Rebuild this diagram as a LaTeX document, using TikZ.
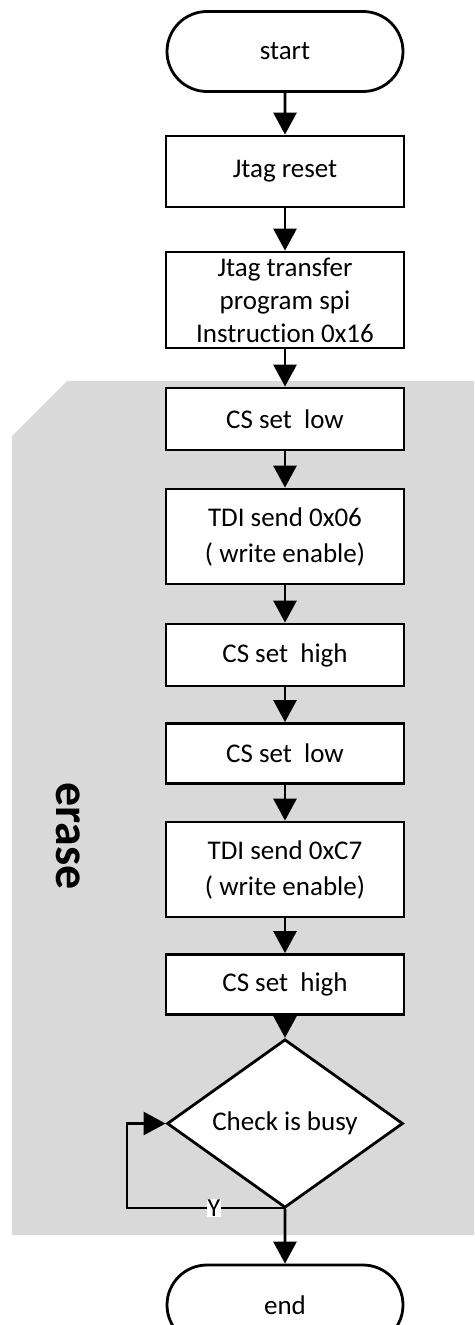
\documentclass[tikz,border=0pt]{standalone}
\usepackage{fontspec}
\setmainfont{Carlito}[Ligatures=NoCommon]
\usetikzlibrary{shapes.geometric,shapes.misc,arrows.meta}

\definecolor{erasegrey}{HTML}{D9D9D9}

\tikzset{
    base/.style={draw=black, line width=2.8pt, fill=white, align=center, inner sep=0pt, font=\fontsize{27}{36}\selectfont},
    terminal/.style={base, rounded rectangle, minimum width=236pt, minimum height=80pt},
    stepbox/.style={base, rectangle, minimum width=238pt},
    decision/.style={base, diamond, minimum width=236pt, minimum height=141pt},
    flow/.style={line width=2.8pt, -{Triangle[width=23pt,length=22pt]}},
    ylabel/.style={fill=white, inner sep=0.5pt, font=\fontsize{26}{30}\selectfont},
}

\begin{document}
\begin{tikzpicture}[x=1pt,y=-1pt]

    \useasboundingbox (0,0) rectangle (474,1325);
    \clip (0,0) rectangle (474,1325);

    % grey block behind the erase steps
    \fill[erasegrey] (67,381) -- (474,381) -- (474,1235) -- (12,1235) -- (12,436) -- cycle;
    \node[rotate=-90, font=\fontsize{48}{48}\selectfont\bfseries] (erase) at (68,836) {erase};

    % flow
    \node[terminal] (start) at (285,51.5) {start};
    \node[stepbox, minimum height=71pt] (reset) at (285,171.5) {Jtag reset};
    \node[stepbox, minimum height=96pt, font=\fontsize{27}{33}\selectfont] (transfer) at (285,300) {Jtag transfer\\program spi\\Instruction 0x16};
    \node[stepbox, minimum height=62pt] (lowA) at (285,419) {CS set\ \ low};
    \node[stepbox, minimum height=95pt] (sendA) at (285,536.5) {TDI send 0x06\\( write enable)};
    \node[stepbox, minimum height=62pt] (highA) at (285,655) {CS set\ \ high};
    \node[stepbox, minimum height=60pt] (lowB) at (285,753.5) {CS set\ \ low};
    \node[stepbox, minimum height=95pt] (sendB) at (285,869.5) {TDI send 0xC7\\( write enable)};
    \node[stepbox, minimum height=60pt] (highB) at (285,984.5) {CS set\ \ high};
    \node[decision] (busy) at (285,1123.5) {Check is busy};
    \node[terminal] (end) at (285,1305) {end};

    \draw[flow] (start) -- (reset);
    \draw[flow] (reset) -- (transfer);
    \draw[flow] (transfer) -- (lowA);
    \draw[flow] (lowA) -- (sendA);
    \draw[flow] (sendA) -- (highA);
    \draw[flow] (highA) -- (lowB);
    \draw[flow] (lowB) -- (sendB);
    \draw[flow] (sendB) -- (highB);
    \draw[flow] (highB) -- (busy);
    \draw[flow] (busy) -- (end);

    % busy loop
    \coordinate (loopfoot) at (127,1208);
    \draw[flow] (busy.south) -- (busy.south |- loopfoot) -- node[ylabel, pos=0.45] (yes) {Y} (loopfoot) |- (busy.west);

\end{tikzpicture}
\end{document}
